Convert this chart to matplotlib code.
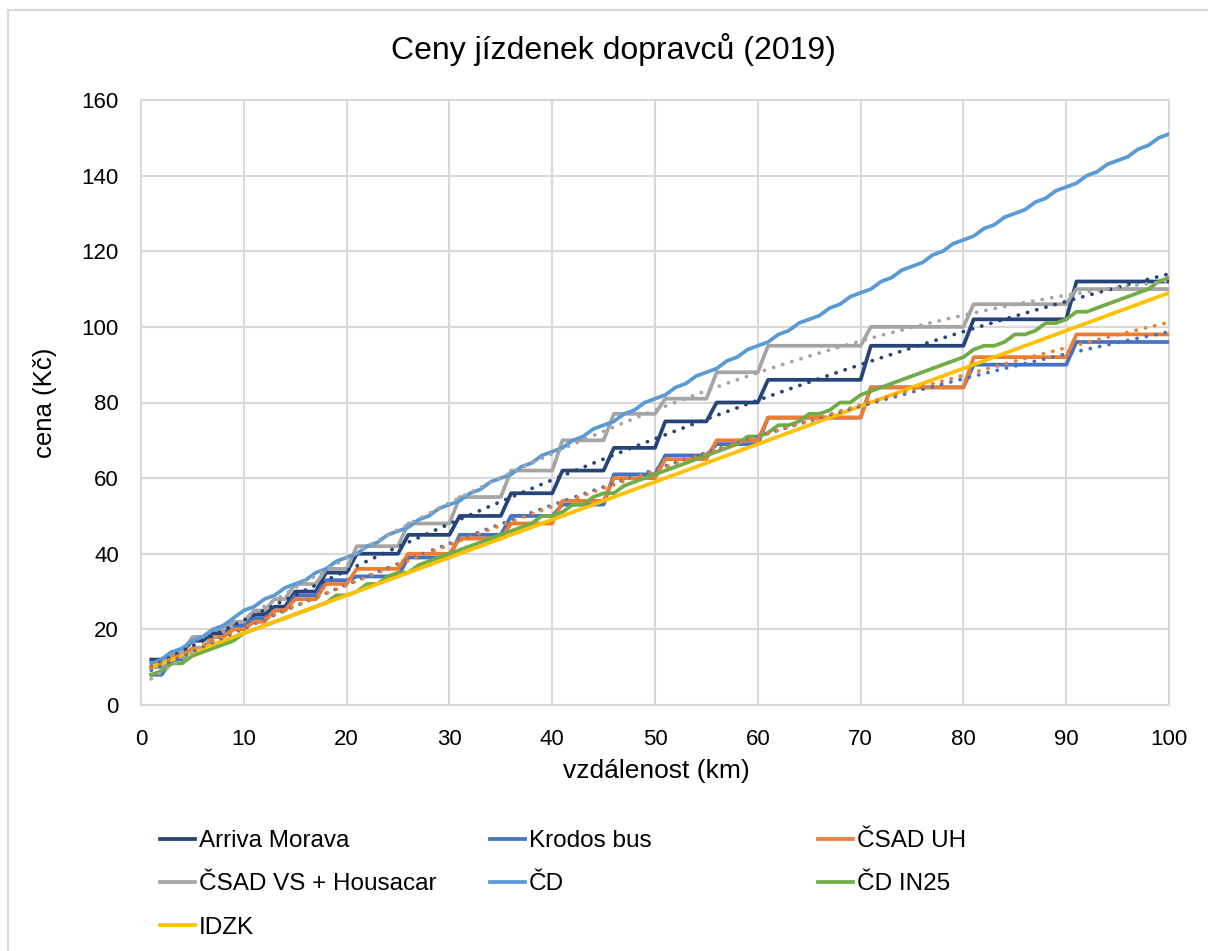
import numpy as np
import matplotlib.pyplot as plt
from matplotlib.patches import Rectangle

plt.rcParams['font.family'] = ['Liberation Sans', 'DejaVu Sans']

# ------------------------------------------------------------
# Data: fare (Kč) by distance 1..100 km
# ------------------------------------------------------------

km = np.arange(1, 101)

# bus tariff zones, upper bound of each zone in km
zone_to = [2, 4, 6, 8, 10, 12, 14, 17, 20, 25, 30, 35, 40, 45, 50, 55, 60, 70, 80, 90, 100]

arriva_zone = [12, 14, 17, 19, 21, 24, 26, 30, 35, 40, 45, 50, 56, 62, 68, 75, 80, 86, 95, 102, 112]
krodos_zone = [8, 12, 15, 18, 21, 23, 25, 29, 33, 34, 39, 45, 50, 53, 61, 66, 69, 76, 84, 90, 96]
csad_uh_zone = [10, 13, 15, 18, 20, 22, 25, 28, 32, 36, 40, 44, 48, 54, 60, 65, 70, 76, 84, 92, 98]
csad_vs_zone = [10, 14, 18, 20, 22, 25, 28, 32, 36, 42, 48, 55, 62, 70, 77, 81, 88, 95, 100, 106, 110]

cd = [11, 12, 14, 15, 17, 18, 20, 21, 23, 25,
      26, 28, 29, 31, 32, 33, 35, 36, 38, 39,
      40, 42, 43, 45, 46, 47, 49, 50, 52, 53,
      54, 56, 57, 59, 60, 61, 63, 64, 66, 67,
      68, 70, 71, 73, 74, 75, 77, 78, 80, 81,
      82, 84, 85, 87, 88, 89, 91, 92, 94, 95,
      96, 98, 99, 101, 102, 103, 105, 106, 108, 109,
      110, 112, 113, 115, 116, 117, 119, 120, 122, 123,
      124, 126, 127, 129, 130, 131, 133, 134, 136, 137,
      138, 140, 141, 143, 144, 145, 147, 148, 150, 151]

cd_in25 = [8, 9, 11, 11, 13, 14, 15, 16, 17, 19,
           20, 21, 22, 23, 24, 25, 26, 27, 29, 29,
           30, 32, 32, 34, 35, 35, 37, 38, 39, 40,
           41, 42, 43, 44, 45, 46, 47, 48, 50, 50,
           51, 53, 53, 55, 56, 56, 58, 59, 60, 61,
           62, 63, 64, 65, 66, 67, 68, 69, 71, 71,
           72, 74, 74, 75, 77, 77, 78, 80, 80, 82,
           83, 84, 85, 86, 87, 88, 89, 90, 91, 92,
           94, 95, 95, 96, 98, 98, 99, 101, 101, 102,
           104, 104, 105, 106, 107, 108, 109, 110, 112, 113]

idzk = [10, 11, 12, 13, 14, 15, 16, 17, 18, 19,
        20, 21, 22, 23, 24, 25, 26, 27, 28, 29,
        30, 31, 32, 33, 34, 35, 36, 37, 38, 39,
        40, 41, 42, 43, 44, 45, 46, 47, 48, 49,
        50, 51, 52, 53, 54, 55, 56, 57, 58, 59,
        60, 61, 62, 63, 64, 65, 66, 67, 68, 69,
        70, 71, 72, 73, 74, 75, 76, 77, 78, 79,
        80, 81, 82, 83, 84, 85, 86, 87, 88, 89,
        90, 91, 92, 93, 94, 95, 96, 97, 98, 99,
        100, 101, 102, 103, 104, 105, 106, 107, 108, 109]


def zone_prices(prices):
    # look up the zone price for every km
    return np.array(prices)[np.searchsorted(zone_to, km)]


series = [
    ("Arriva Morava", zone_prices(arriva_zone), "#264478", True),
    ("Krodos bus", zone_prices(krodos_zone), "#4472C4", True),
    ("ČSAD UH", zone_prices(csad_uh_zone), "#ED7D31", True),
    ("ČSAD VS + Housacar", zone_prices(csad_vs_zone), "#A5A5A5", True),
    ("ČD", np.array(cd), "#5B9BD5", False),
    ("ČD IN25", np.array(cd_in25), "#70AD47", False),
    ("IDZK", np.array(idzk), "#FFC000", False),
]

# ------------------------------------------------------------
# Plot
# ------------------------------------------------------------

W, H = 1208, 951
fig = plt.figure(figsize=(W / 100, H / 100), dpi=100)
ax = fig.add_axes([141 / W, 1 - 705 / H, 1028 / W, 605 / H])

grid_col = "#D9D9D9"
handles = {}
for name, y, color, trend in series:
    line, = ax.plot(km, y, color=color, lw=2.7, label=name, zorder=3,
                    solid_joinstyle="round")
    handles[name] = line

# 2nd order polynomial trendlines (as in Excel) for the bus carriers
xs = np.linspace(1, 100, 300)
for name, y, color, trend in series:
    if not trend:
        continue
    coef = np.polyfit(km, y, 2)
    ax.plot(xs, np.polyval(coef, xs), color=color, lw=2.7,
            linestyle=(0, (0.05, 2.5)), dash_capstyle="round", zorder=4)

ax.set_xlim(0, 100)
ax.set_ylim(0, 160)
ax.set_xticks(np.arange(0, 101, 10))
ax.set_yticks(np.arange(0, 161, 20))
ax.grid(True, color=grid_col, lw=1.5, zorder=0)
for s in ax.spines.values():
    s.set_color(grid_col)
    s.set_linewidth(1.5)
ax.tick_params(length=0, labelsize=16, colors="black")
ax.tick_params(axis="x", pad=17)
ax.tick_params(axis="y", pad=16)

fig.text(613 / W, 1 - 50 / H, "Ceny jízdenek dopravců (2019)", ha="center",
         va="center", fontsize=23)
fig.text(656 / W, 1 - 771 / H, "vzdálenost (km)", ha="center", va="center",
         fontsize=19)
fig.text(45 / W, 1 - 403 / H, "cena (Kč)", ha="center", va="center",
         fontsize=18.5, rotation=90)

# legend laid out in three equal-width columns
columns = [
    (160, ["Arriva Morava", "ČSAD VS + Housacar", "IDZK"]),
    (490, ["Krodos bus", "ČD"]),
    (818, ["ČSAD UH", "ČD IN25"]),
]
for x0, names in columns:
    fig.legend([handles[n] for n in names], names, loc="upper left",
               bbox_to_anchor=(x0 / W, 1 - 830 / H), frameon=False,
               fontsize=17.5, handlelength=1.45, handletextpad=0.15,
               labelspacing=0.88, borderpad=0, borderaxespad=0)

fig.patches.append(Rectangle((8 / W, -0.1), 1.2, 1.1 - 10 / H,
                             transform=fig.transFigure, fill=False,
                             edgecolor=grid_col, lw=1.5))

fig.savefig("out.png", dpi=100)
